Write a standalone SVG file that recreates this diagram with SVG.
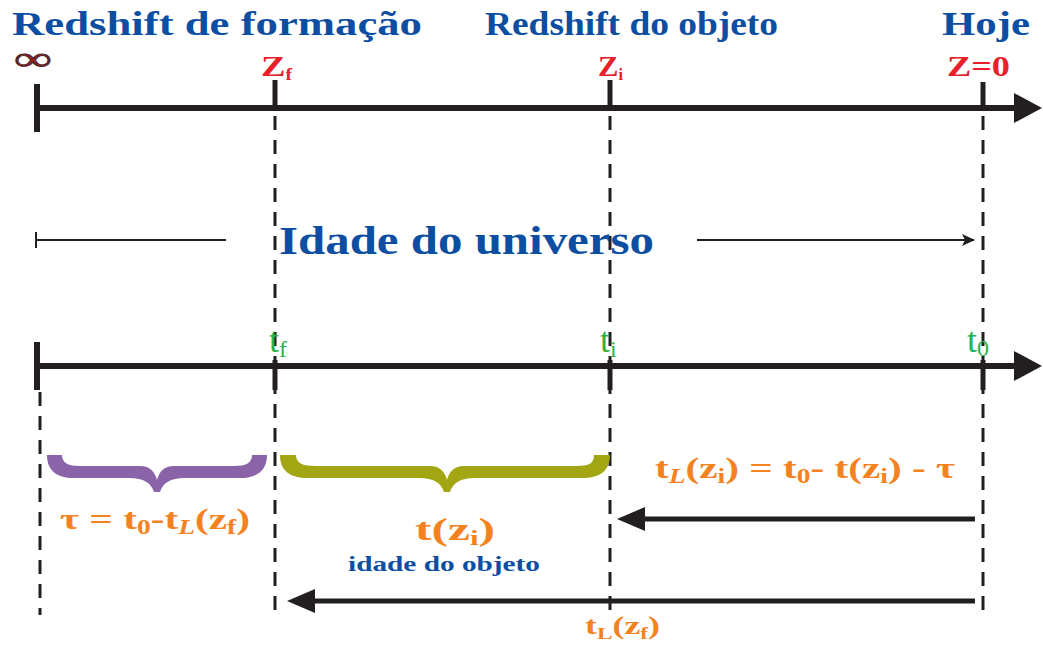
<svg xmlns="http://www.w3.org/2000/svg" width="1043" height="648" viewBox="0 0 1043 648">
<style>
.t{font-family:"Liberation Serif","Times New Roman",serif;font-weight:bold}
.blue{fill:#0c4ea2}
.red{fill:#e8202a}
.green{fill:#2bb24c;font-weight:normal}
.orange{fill:#f58220}
.axis{stroke:#231f20;stroke-width:6;fill:none}
.tick{stroke:#231f20;stroke-width:6;fill:none}
.tk{stroke:#231f20;stroke-width:5;fill:none}
.dash{stroke:#231f20;stroke-width:3;fill:none;stroke-dasharray:14 10}
.thin{stroke:#231f20;stroke-width:2;fill:none}
.arr{stroke:#231f20;stroke-width:5;fill:none}
</style>
<defs>
<marker id="big" markerUnits="userSpaceOnUse" markerWidth="30" markerHeight="32" refX="2" refY="16" orient="auto">
<path d="M0,1 L28,16 L0,31 Z" fill="#231f20"/>
</marker>
<marker id="mid" markerUnits="userSpaceOnUse" markerWidth="30" markerHeight="24" refX="2" refY="12" orient="auto">
<path d="M0,0 L28,12 L0,24 Z" fill="#231f20"/>
</marker>
<marker id="small" markerUnits="userSpaceOnUse" markerWidth="14" markerHeight="12" refX="12" refY="6" orient="auto">
<path d="M0,0 L13,6 L0,12 L3,6 Z" fill="#231f20"/>
</marker>
</defs>

<g id="connectors">
<line class="axis" x1="37" y1="108" x2="1016" y2="108" marker-end="url(#big)"/>
<line class="tick" x1="37" y1="84" x2="37" y2="132"/>
<line class="tk" x1="275" y1="80" x2="275" y2="108"/>
<line class="tk" x1="610" y1="80" x2="610" y2="108"/>
<line class="tk" x1="983" y1="82" x2="983" y2="110"/>
<line class="dash" x1="275" y1="116" x2="275" y2="615"/>
<line class="dash" x1="610" y1="116" x2="610" y2="615"/>
<line class="dash" x1="983" y1="116" x2="983" y2="615"/>
<line class="dash" x1="40" y1="392" x2="40" y2="615"/>
<line class="thin" x1="36" y1="232" x2="36" y2="248"/>
<line class="thin" x1="36" y1="240" x2="226" y2="240"/>
<line class="thin" x1="697" y1="240" x2="974" y2="240" marker-end="url(#small)"/>
<line class="axis" x1="37" y1="366" x2="1016" y2="366" marker-end="url(#big)"/>
<line class="tick" x1="37" y1="342" x2="37" y2="390"/>
<line class="tk" x1="275" y1="360" x2="275" y2="390"/>
<line class="tk" x1="610" y1="360" x2="610" y2="390"/>
<line class="tk" x1="983" y1="360" x2="983" y2="390"/>
<line class="arr" x1="975" y1="519" x2="643" y2="519" marker-end="url(#mid)"/>
<line class="arr" x1="975" y1="601" x2="313" y2="601" marker-end="url(#mid)"/>
</g>

<g id="top-labels">
<text class="t blue" x="12" y="35" font-size="33" textLength="410" lengthAdjust="spacingAndGlyphs">Redshift de formação</text>
<text class="t blue" x="485" y="35" font-size="33" textLength="293" lengthAdjust="spacingAndGlyphs">Redshift do objeto</text>
<text class="t blue" x="942" y="35" font-size="33" textLength="88" lengthAdjust="spacingAndGlyphs">Hoje</text>
</g>

<g id="infinity">
<text x="14" y="70" font-family="Liberation Serif, serif" font-size="34" fill="#9b1c1f" stroke="#3a2a2a" stroke-width="0.8" textLength="38" lengthAdjust="spacingAndGlyphs">∞</text>
</g>

<g id="redshift-labels">
<text class="t red" x="261" y="76" font-size="30" textLength="31" lengthAdjust="spacingAndGlyphs">Z<tspan font-size="16" dy="4">f</tspan></text>
<text class="t red" x="598" y="76" font-size="30" textLength="25" lengthAdjust="spacingAndGlyphs">Z<tspan font-size="16" dy="4">i</tspan></text>
<text class="t red" x="947" y="76" font-size="29" textLength="63" lengthAdjust="spacingAndGlyphs">Z=0</text>
</g>

<g id="universe-age">
<text class="t blue" x="279" y="254" font-size="41" textLength="375" lengthAdjust="spacingAndGlyphs">Idade do universo</text>
</g>

<g id="time-labels">
<text class="t green" x="269" y="352" font-size="36">t<tspan font-size="24" dy="5">f</tspan></text>
<text class="t green" x="600" y="352" font-size="36">t<tspan font-size="24" dy="5">i</tspan></text>
<text class="t green" x="967" y="352" font-size="36">t<tspan font-size="24" dy="4">0</tspan></text>
</g>

<g id="brace-tau">
<path fill="#8a63a8" d="M47 455 L62 455 C62 463 68 466 80 466 L140 466 C150 466 155 472 157 480 C159 472 164 466 174 466 L234 466 C246 466 252 463 252 455 L267 455 C267 470 258 478 240 478 L185 478 C170 478 163 483 160 492 L154 492 C151 483 144 478 129 478 L74 478 C56 478 47 470 47 455 Z"/>
<text class="t orange" x="60" y="529" font-size="30" textLength="190" lengthAdjust="spacingAndGlyphs">τ = t<tspan font-size="20" dy="5">0</tspan><tspan dy="-5">-t</tspan><tspan font-size="20" dy="5" font-style="italic">L</tspan><tspan dy="-5">(z</tspan><tspan font-size="20" dy="5">f</tspan><tspan dy="-5">)</tspan></text>
</g>

<g id="brace-age">
<path fill="#a2a613" d="M280 455 L296 455 C296 463 302 466 316 466 L430 466 C440 466 445 472 447 480 C449 472 454 466 464 466 L576 466 C590 466 594 463 594 455 L610 455 C610 470 601 478 582 478 L475 478 C460 478 453 483 450 492 L444 492 C441 483 434 478 419 478 L308 478 C289 478 280 470 280 455 Z"/>
<text class="t orange" x="415" y="540" font-size="32" textLength="80" lengthAdjust="spacingAndGlyphs">t(z<tspan font-size="20" dy="5">i</tspan><tspan dy="-5">)</tspan></text>
<text class="t blue" x="348" y="571" font-size="21" textLength="192" lengthAdjust="spacingAndGlyphs">idade do objeto</text>
</g>

<g id="lookback-object">
<text class="t orange" x="655" y="478" font-size="30" textLength="300" lengthAdjust="spacingAndGlyphs">t<tspan font-size="20" dy="5" font-style="italic">L</tspan><tspan dy="-5">(z</tspan><tspan font-size="20" dy="5">i</tspan><tspan dy="-5">) = t</tspan><tspan font-size="20" dy="5">0</tspan><tspan dy="-5">- t(z</tspan><tspan font-size="20" dy="5">i</tspan><tspan dy="-5">) - τ</tspan></text>
</g>

<g id="lookback-formation">
<text class="t orange" x="585" y="634" font-size="26" textLength="75" lengthAdjust="spacingAndGlyphs">t<tspan font-size="17" dy="5">L</tspan><tspan dy="-5">(z</tspan><tspan font-size="17" dy="5">f</tspan><tspan dy="-5">)</tspan></text>
</g>
</svg>
